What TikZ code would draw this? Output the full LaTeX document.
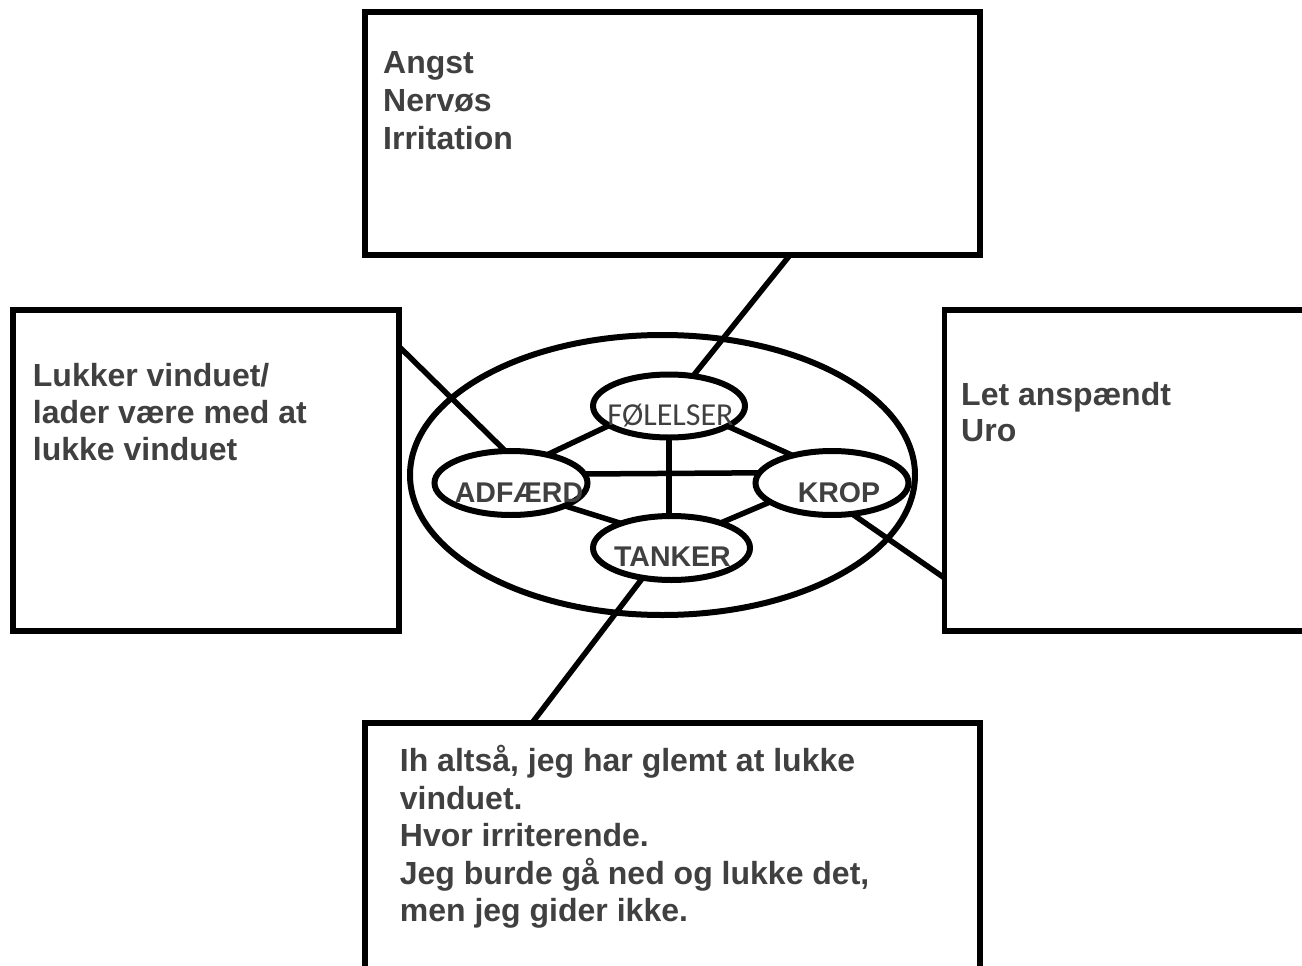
\documentclass[tikz,border=0pt]{standalone}
\usepackage{fontspec}
\setmainfont{Liberation Sans}
\newfontfamily\carlito{Carlito}
\usetikzlibrary{shapes.geometric}
\definecolor{ink}{RGB}{64,64,64}

\begin{document}
\begin{tikzpicture}[x=1pt,y=-1pt,
  frame/.style={rectangle,draw=black,line width=5.5pt,inner sep=0pt,outer sep=0pt},
  link/.style={draw=black,line width=5.5pt},
  ring/.style={ellipse,draw=black,line width=6pt,inner sep=0pt,outer sep=0pt},
  boxtext/.style={inner sep=0pt,anchor=base west,text=ink,
    font=\fontsize{32}{#1}\selectfont\bfseries},
  boxtext/.default=37.5,
  lab/.style={inner sep=0pt,anchor=base,text=ink,font=\fontsize{28.5}{34}\selectfont\bfseries},
]
\clip (0,0) rectangle (1302,966);

% the four outer boxes
\node[frame,minimum width=615pt,minimum height=243pt] (feel) at (672.5,133.5) {};
\node[frame,minimum width=386pt,minimum height=321pt] (act)  at (206,470.5) {};
\node[frame,minimum width=376pt,minimum height=321pt] (body) at (1132.5,470.5) {};
\node[frame,minimum width=615pt,minimum height=268pt] (think) at (672.5,857) {};

% where the connectors meet the boxes
\coordinate (feelfoot)  at (790,255);
\coordinate (actfoot)   at (399,346.5);
\coordinate (bodyfoot)  at (944.5,578);
\coordinate (thinkfoot) at (532,723);

% the big ring and the four small rings
\node[ring,minimum width=505pt,minimum height=280pt] (all) at (662.5,475) {};
\node[ring,minimum width=152pt,minimum height=63pt] (F) at (669,406) {};
\node[ring,minimum width=153pt,minimum height=64pt] (A) at (511,483) {};
\node[ring,minimum width=153pt,minimum height=64pt] (K) at (832,483) {};
\node[ring,minimum width=157pt,minimum height=64pt] (T) at (671.5,548) {};

% connectors from the rings to the boxes
\draw[link] (F) -- (feelfoot);
\draw[link] (actfoot) -- (A.100);
\draw[link] (K.-57) -- (bodyfoot);
\draw[link] (T.226) -- (thinkfoot);

% connectors between the small rings
\draw[link] (F.198) -- (A.38);
\draw[link] (F.-19.6) -- (K.145);
\draw[link] (A.-23) -- (T.154.5);
\draw[link] (K.197) -- (T.27);
\draw[link] (A.7.8) -- (K.172.2);
\draw[link] (F.south) -- (F.south |- T.north);

% ring labels
\node[inner sep=0pt,anchor=base,text=ink,font=\carlito\fontsize{32}{38}\selectfont] (Ftxt) at (670.5,425) {FØLELSER};
\node[lab] (Atxt) at (519,502) {ADFÆRD};
\node[lab] (Ktxt) at (839,502) {KROP};
\node[lab] (Ttxt) at (672.5,566) {TANKER};

% box texts
\node[boxtext=38.3] (feeltxt) at (383,73.3)
  {\begin{tabular}[t]{@{}l@{}}Angst\\Nervøs\\Irritation\end{tabular}};
\node[boxtext=36.7] (acttxt) at (32.7,386.7)
  {\begin{tabular}[t]{@{}l@{}}Lukker vinduet/\\lader være med at\\lukke vinduet\end{tabular}};
\node[boxtext=36.7] (bodytxt) at (961,405)
  {\begin{tabular}[t]{@{}l@{}}Let anspændt\\Uro\end{tabular}};
\node[boxtext=37.5] (thinktxt) at (399.7,771.7)
  {\begin{tabular}[t]{@{}l@{}}Ih altså, jeg har glemt at lukke\\vinduet.\\Hvor irriterende.\\Jeg burde gå ned og lukke det,\\men jeg gider ikke.\end{tabular}};
\end{tikzpicture}
\end{document}
